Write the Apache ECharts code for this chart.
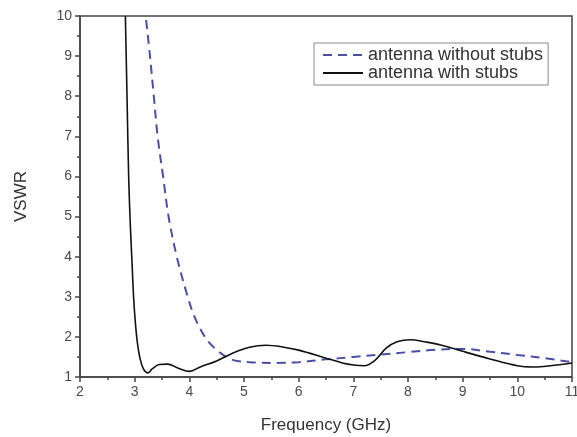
<!DOCTYPE html>
<html>
<head>
<meta charset="utf-8">
<script src="https://cdn.jsdelivr.net/npm/echarts@6/dist/echarts.min.js"></script>
<style>
html,body{margin:0;padding:0;background:#fff;}
#chart{width:577px;height:437px;}
</style>
</head>
<body>
<div id="chart"></div>
<script>
// Measured VSWR versus frequency for the two antenna variants
const withoutStubs = [
  [3.21,9.9],[3.28,9.0],[3.35,8.0],[3.42,7.0],[3.52,6.0],[3.62,5.0],[3.77,4.0],
  [3.97,3.0],[4.08,2.55],[4.2,2.2],[4.32,1.93],[4.44,1.75],[4.56,1.61],[4.7,1.48],
  [4.87,1.4],[5.2,1.36],[5.6,1.35],[6.0,1.37],[6.5,1.44],[7.0,1.5],[7.5,1.56],
  [8.0,1.62],[8.5,1.68],[9.0,1.7],[9.5,1.63],[10.0,1.55],[10.5,1.47],[10.95,1.38]
];
const withStubs = [
  [2.83,10.0],[2.86,8.0],[2.89,6.0],[2.92,4.8],[2.95,3.9],[2.98,3.0],[3.01,2.4],
  [3.05,1.85],[3.1,1.45],[3.16,1.2],[3.24,1.1],[3.32,1.2],[3.45,1.31],[3.6,1.32],
  [3.8,1.22],[4.0,1.14],[4.2,1.25],[4.5,1.4],[4.8,1.6],[5.1,1.74],[5.4,1.79],
  [5.7,1.75],[6.0,1.67],[6.5,1.47],[6.8,1.35],[7.0,1.3],[7.2,1.28],[7.4,1.42],
  [7.6,1.72],[7.8,1.88],[8.05,1.93],[8.3,1.88],[8.6,1.8],[9.0,1.64],[9.5,1.45],
  [10.0,1.28],[10.3,1.25],[10.6,1.28],[11.0,1.35]
];
const seriesNames = ['antenna without stubs', 'antenna with stubs'];
const xTicks = {min: 2, max: 11, interval: 1};
const yTicks = {min: 1, max: 10, interval: 1};

const font = 'Liberation Sans, Arial, sans-serif';
const axisColor = '#444';

const axisCommon = {
  nameLocation: 'middle',
  nameTextStyle: {fontFamily: font, fontSize: 17, color: '#333'},
  axisLine: {show: true, lineStyle: {color: axisColor, width: 1.5}},
  axisTick: {show: true, inside: false, length: 5, lineStyle: {color: axisColor, width: 1.5}},
  minorTick: {show: true, splitNumber: 2, length: 3, lineStyle: {color: axisColor, width: 1.5}},
  splitLine: {show: false},
  axisLabel: {fontFamily: font, fontSize: 14, color: '#4a4a4a', margin: 8}
};

const chart = echarts.init(document.getElementById('chart'));
chart.setOption({
  backgroundColor: '#fff',
  animation: false,
  grid: {left: 80, right: 5, top: 16, bottom: 60, show: true,
         outerBoundsMode: 'none', containLabel: false,
         borderColor: axisColor, borderWidth: 1.5},
  legend: {
    orient: 'vertical', left: 314, top: 43,
    borderColor: '#888', borderWidth: 1, padding: [3, 5, 3, 8],
    itemWidth: 40, itemHeight: 10, itemGap: 0,
    itemStyle: {opacity: 0},
    textStyle: {fontFamily: font, fontSize: 18, color: '#333'},
    data: seriesNames
  },
  xAxis: Object.assign({
    type: 'value', min: xTicks.min, max: xTicks.max, interval: xTicks.interval,
    name: 'Frequency (GHz)', nameGap: 40
  }, axisCommon),
  yAxis: Object.assign({
    type: 'value', min: yTicks.min, max: yTicks.max, interval: yTicks.interval,
    name: 'VSWR', nameGap: 50
  }, axisCommon),
  series: [
    {
      name: seriesNames[0], type: 'line', data: withoutStubs, smooth: 0.35,
      symbol: 'none', clip: true,
      lineStyle: {color: '#4a4fa6', width: 2, type: [9, 6]},
      itemStyle: {color: '#4a4fa6'}
    },
    {
      name: seriesNames[1], type: 'line', data: withStubs, smooth: 0.35,
      symbol: 'none', clip: true,
      lineStyle: {color: '#111', width: 1.6},
      itemStyle: {color: '#111'}
    }
  ]
});
</script>
</body>
</html>
